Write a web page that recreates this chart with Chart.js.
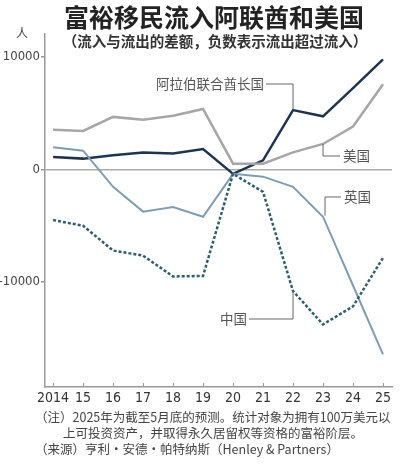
<!DOCTYPE html>
<html>
<head>
<meta charset="utf-8">
<script src="https://cdn.jsdelivr.net/npm/chart.js@4"></script>
<style>
  html, body { margin: 0; padding: 0; background: #fff; }
  #wrap { width: 400px; height: 465px; position: relative; }
</style>
</head>
<body>
<div id="wrap"><canvas id="chart" width="400" height="465"></canvas></div>
<script>
// values (persons, net inflow)
const years = [2014, 2015, 2016, 2017, 2018, 2019, 2020, 2021, 2022, 2023, 2024, 2025];
const uae = [1100, 950, 1250, 1500, 1400, 1800, -400, 800, 5250, 4700, 7200, 9750];
const usa = [3500, 3400, 4650, 4400, 4750, 5350, 500, 500, 1500, 2250, 3800, 7550];
const uk = [1950, 1650, -1550, -3750, -3350, -4200, -400, -650, -1550, -4200, -10300, -16400];
const china = [-4500, -5000, -7200, -7650, -9500, -9450, -400, -2000, -10800, -13750, -12150, -7850];
const yTicks = [-10000, 0, 10000];

const title = '富裕移民流入阿联酋和美国';
const subtitle = '（流入与流出的差额，负数表示流出超过流入）';
const unit = '人';
const notes = [
  '（注）2025年为截至5月底的预测。统计对象为拥有100万美元以',
  '上可投资资产，并取得永久居留权等资格的富裕阶层。',
  '（来源）亨利·安德·帕特纳斯（Henley & Partners）',
];

const CJK = '"Noto Sans CJK SC", "Noto Sans", sans-serif';
const NARROW = '"Liberation Sans Narrow", "DejaVu Sans Condensed", sans-serif';

const pts = (arr) => arr.map((v, i) => ({ x: years[i], y: v }));

// titles, unit, footnotes, series labels with leader lines
const decor = {
  id: 'decor',
  afterDraw(chart) {
    const { ctx, scales: { x, y } } = chart;
    ctx.save();
    ctx.fillStyle = '#222';
    ctx.textBaseline = 'middle';
    ctx.textAlign = 'center';
    ctx.font = 'bold 25px ' + CJK;
    ctx.fillText(title, 214, 17);
    ctx.font = 'bold 14.5px ' + CJK;
    ctx.fillStyle = '#333';
    ctx.fillText(subtitle, 215, 41);

    ctx.font = '12px ' + CJK;
    ctx.fillStyle = '#444';
    ctx.fillText(unit, 22, 33);

    // x tick marks pointing into the plot
    ctx.strokeStyle = '#999';
    ctx.lineWidth = 1;
    years.forEach((yr) => {
      const px = Math.round(x.getPixelForValue(yr)) + 0.5;
      ctx.beginPath();
      ctx.moveTo(px, y.bottom);
      ctx.lineTo(px, y.bottom - 4);
      ctx.stroke();
    });

    // footnotes
    ctx.textAlign = 'left';
    ctx.font = '12.5px ' + CJK;
    ctx.fillStyle = '#444';
    ctx.fillText(notes[0], 35, 417);
    ctx.fillText(notes[1], 63, 433);
    ctx.fillText(notes[2], 35, 449);

    // series labels
    const px = (yr) => x.getPixelForValue(yr);
    const py = (v) => y.getPixelForValue(v);
    ctx.strokeStyle = '#666';
    ctx.lineWidth = 1;
    ctx.font = '13.5px ' + CJK;
    ctx.fillStyle = '#555';

    const line = (path) => {
      ctx.beginPath();
      ctx.moveTo(path[0][0], path[0][1]);
      path.slice(1).forEach((p) => ctx.lineTo(p[0], p[1]));
      ctx.stroke();
    };

    // UAE
    line([[266, 84], [px(2022), 84], [px(2022), py(uae[8])]]);
    ctx.textAlign = 'right';
    ctx.fillText('阿拉伯联合酋长国', 264, 84);
    // USA
    line([[px(2023), py(usa[9])], [px(2023), 156], [340, 156]]);
    ctx.textAlign = 'left';
    ctx.fillText('美国', 343, 156);
    // UK
    line([[341, 197], [px(2023) + 2, 197], [px(2023) + 2, py(uk[9]) - 1]]);
    ctx.fillText('英国', 344, 197);
    // China
    line([[249, 319], [px(2022), 319], [px(2022), py(china[8])]]);
    ctx.textAlign = 'right';
    ctx.fillText('中国', 247, 319);
    ctx.restore();
  },
};

const ds = (label, data, color, width, dash) => ({
  label,
  data: pts(data),
  borderColor: color,
  borderWidth: width,
  borderDash: dash || [],
  pointRadius: 0,
  tension: 0,
  fill: false,
});

new Chart(document.getElementById('chart'), {
  type: 'line',
  data: {
    datasets: [
      ds('中国', china, '#2f5d6e', 2.5, [3, 2]),
      ds('英国', uk, '#7f9db2', 2),
      ds('美国', usa, '#a6a6a6', 2.5),
      ds('阿拉伯联合酋长国', uae, '#1e3450', 2.5),
    ],
  },
  options: {
    responsive: false,
    animation: false,
    layout: { padding: { top: 34, right: 8, left: 0, bottom: 0 } },
    plugins: { legend: { display: false }, tooltip: { enabled: false } },
    scales: {
      x: {
        type: 'linear',
        min: 2013.73,
        max: 2025.3,
        afterBuildTicks: (s) => { s.ticks = years.map((v) => ({ value: v })); },
        afterFit: (s) => { s.height = 78; },
        ticks: {
          padding: 3,
          color: '#333',
          maxRotation: 0,
          minRotation: 0,
          autoSkip: false,
          font: { family: NARROW, size: 14 },
          callback: (v) => (v === 2014 ? '2014' : String(v).slice(2)),
        },
        grid: { display: true, drawOnChartArea: false, drawTicks: false },
        border: { display: true, color: '#999', width: 1.5 },
      },
      y: {
        min: -19300,
        max: 12000,
        afterBuildTicks: (s) => { s.ticks = yTicks.map((v) => ({ value: v })); },
        afterFit: (s) => { s.width = 45; },
        ticks: {
          padding: 1,
          color: '#444',
          font: { family: NARROW, size: 13 },
          callback: (v) => String(v),
        },
        grid: {
          color: (c) => (c.tick && c.tick.value === 0 ? '#aaa' : 'transparent'),
          lineWidth: 1.5,
          tickColor: '#999',
          tickLength: 4,
        },
        border: { display: true, color: '#999', width: 1.5 },
      },
    },
  },
  plugins: [decor],
});
</script>
</body>
</html>
